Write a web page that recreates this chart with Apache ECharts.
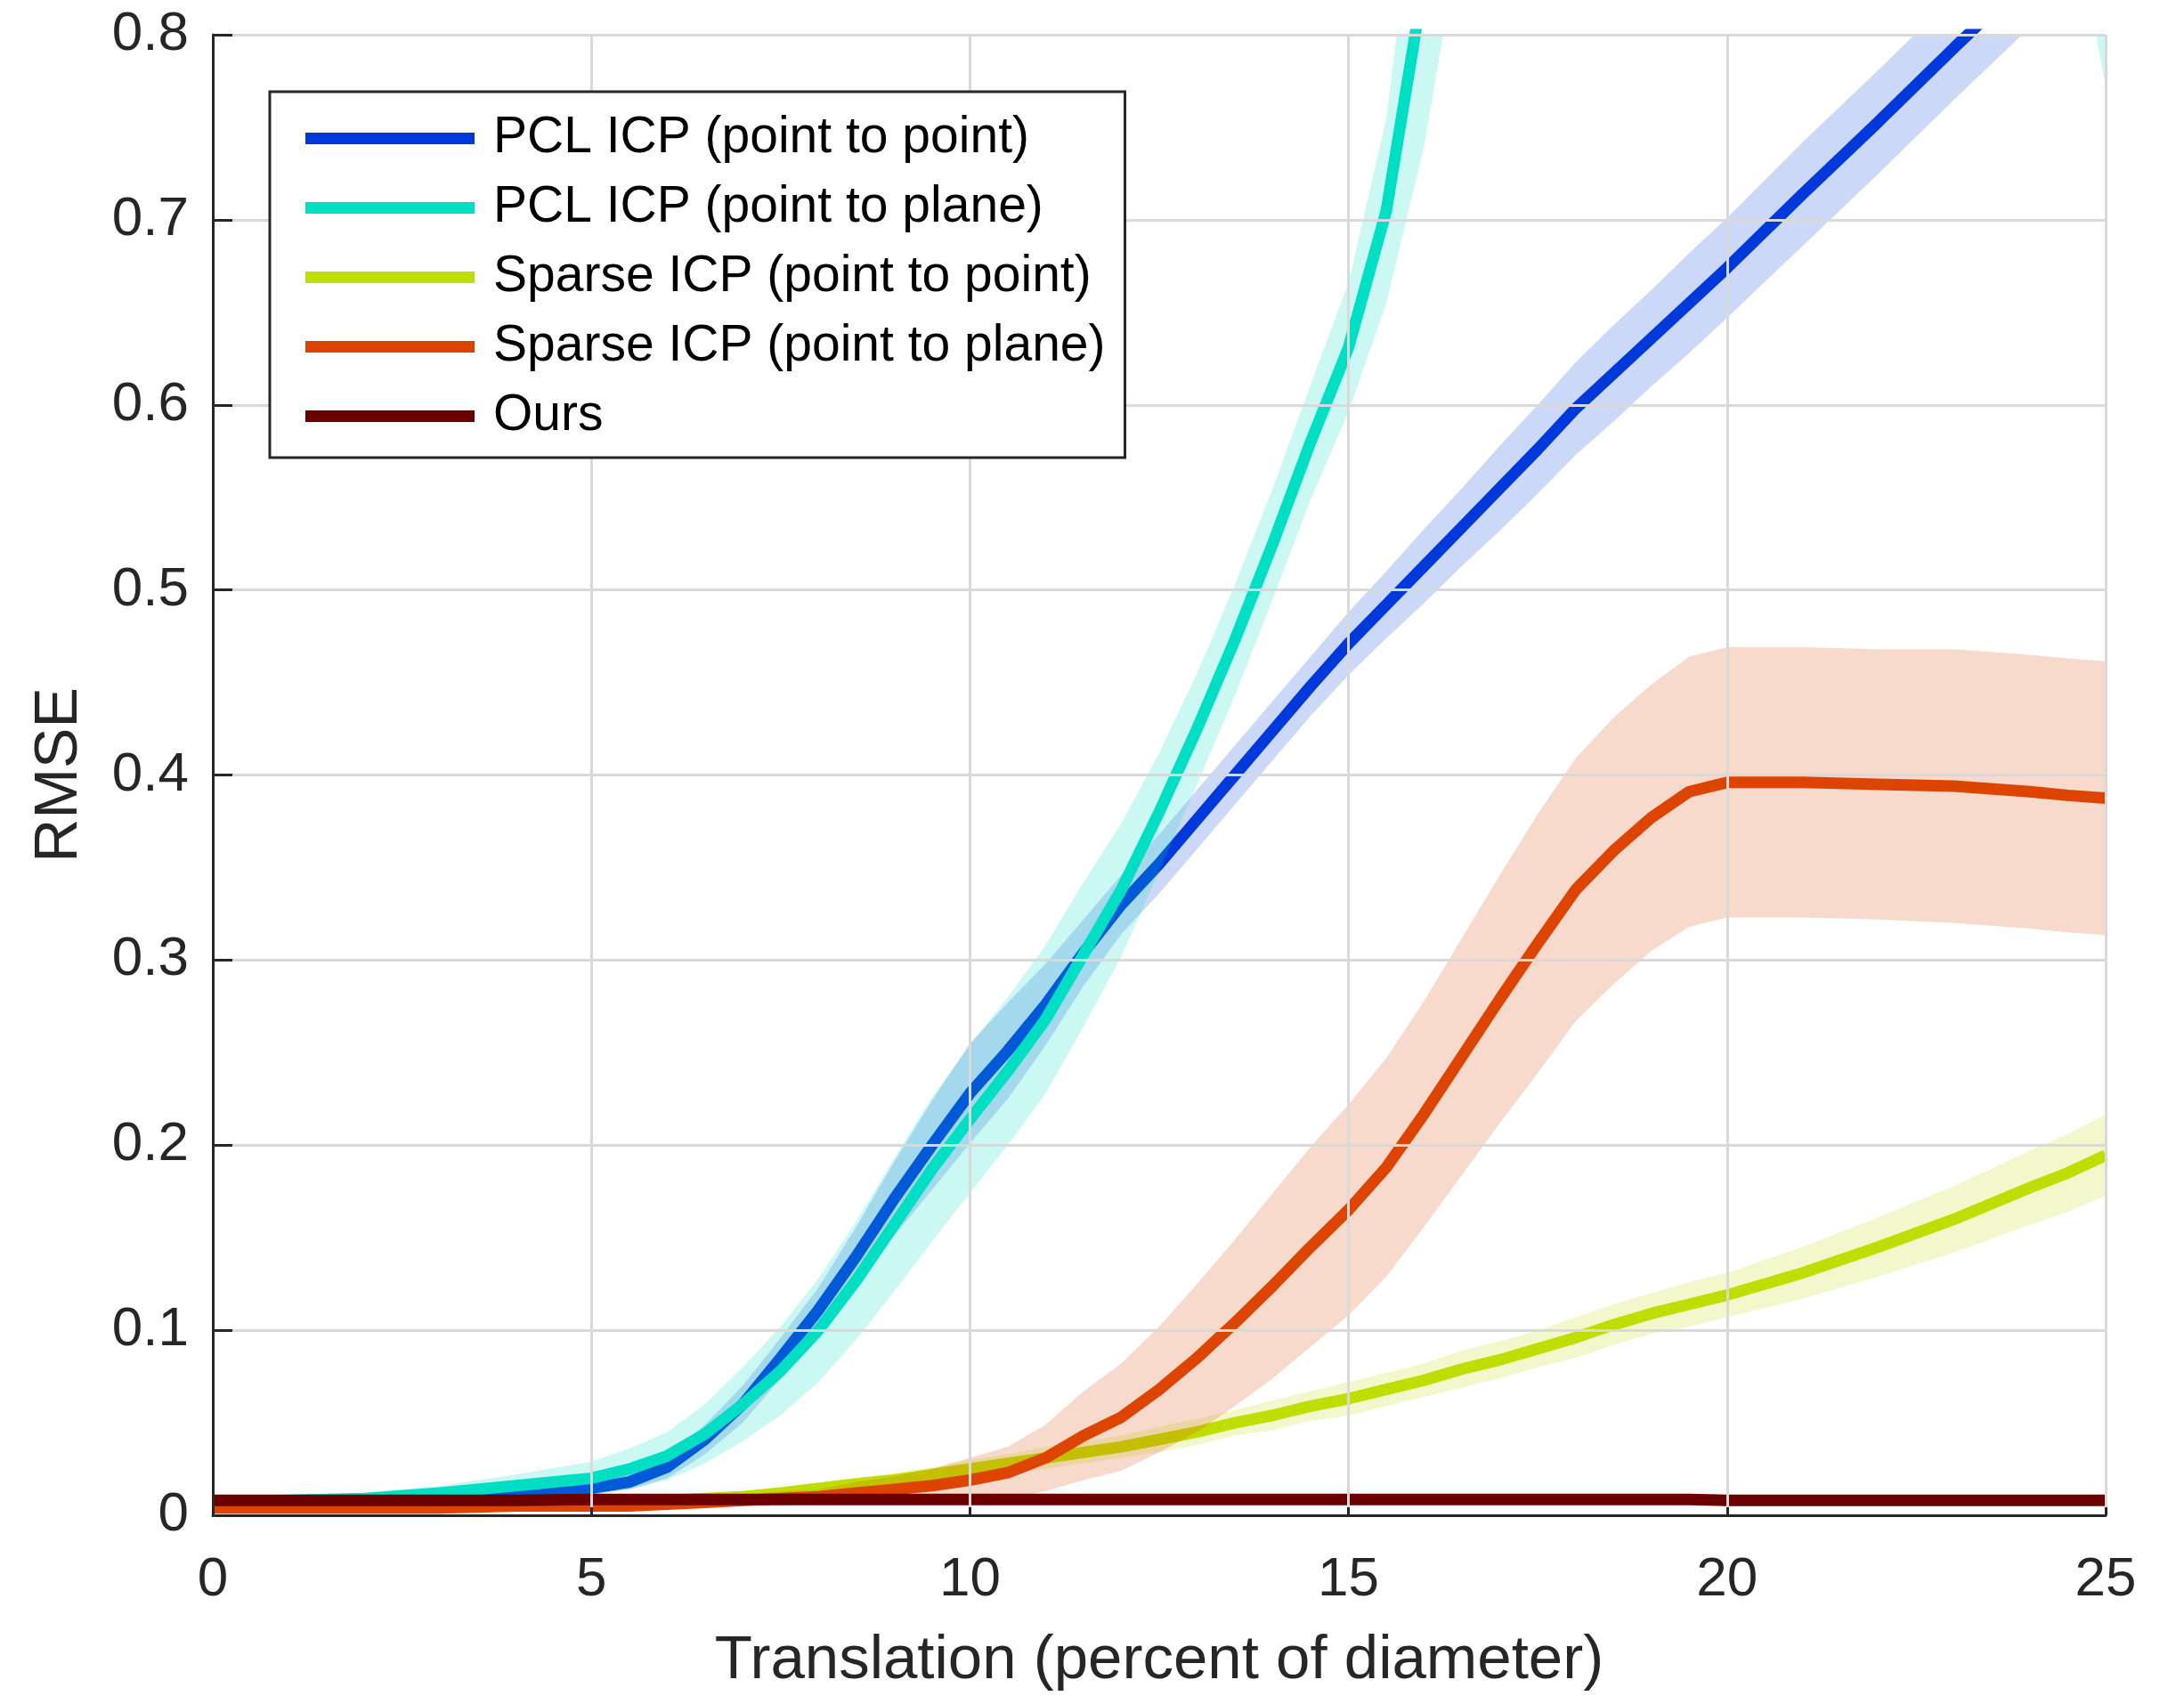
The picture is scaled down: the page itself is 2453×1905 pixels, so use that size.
<!DOCTYPE html>
<html><head><meta charset="utf-8">
<script src="https://cdn.jsdelivr.net/npm/echarts@6/dist/echarts.min.js"></script>
<style>html,body{margin:0;padding:0;background:#fff}#c{width:2453px;height:1905px}</style>
</head><body><div id="c"></div>
<script>
// Translation (percent of diameter)
const xs = [0,1,2,3,4,5,5.5,6,6.5,7,7.5,8,8.5,9,9.5,10,10.5,11,11.5,12,12.5,13,13.5,14,14.5,15,15.5,16,16.5,17,17.5,18,18.5,19,19.5,20,21,22,23,24,24.5,25];

const seriesNames = ['PCL ICP (point to point)','PCL ICP (point to plane)','Sparse ICP (point to point)','Sparse ICP (point to plane)','Ours'];

// PCL ICP (point to point)
const pclPtPtMean = [0.006,0.006,0.007,0.008,0.010,0.0146,0.018,0.026,0.041,0.060,0.085,0.111,0.140,0.171,0.200,0.228,0.251,0.276,0.304,0.330,0.352,0.376,0.400,0.424,0.448,0.471,0.492,0.513,0.534,0.555,0.576,0.598,0.617,0.636,0.655,0.674,0.714,0.753,0.793,0.832,0.851,0.871];
const pclPtPtStd  = [0.001,0.001,0.001,0.001,0.002,0.003,0.004,0.006,0.008,0.010,0.011,0.012,0.016,0.020,0.024,0.027,0.026,0.022,0.018,0.016,0.016,0.016,0.016,0.016,0.016,0.017,0.018,0.020,0.021,0.023,0.024,0.025,0.026,0.026,0.027,0.027,0.028,0.028,0.028,0.028,0.028,0.028];

// PCL ICP (point to plane)
const pclPtPlMean = [0.007,0.008,0.009,0.012,0.016,0.020,0.025,0.032,0.044,0.060,0.078,0.100,0.127,0.157,0.187,0.214,0.240,0.268,0.303,0.338,0.380,0.425,0.473,0.525,0.580,0.631,0.705,0.830,0.980,1.150,1.300,1.450,1.550,1.600,1.620,1.600,1.500,1.350,1.200,1.000,0.930,0.805];
const pclPtPlStd  = [0.002,0.002,0.003,0.004,0.006,0.009,0.011,0.013,0.016,0.020,0.024,0.028,0.032,0.036,0.039,0.040,0.040,0.040,0.039,0.036,0.032,0.030,0.030,0.030,0.031,0.035,0.050,0.090,0.120,0.120,0.120,0.120,0.120,0.120,0.120,0.120,0.110,0.100,0.090,0.070,0.050,0.033];

// Sparse ICP (point to point)
const sparsePtPtMean = [0.005,0.005,0.005,0.006,0.006,0.007,0.007,0.008,0.009,0.010,0.012,0.0145,0.017,0.019,0.022,0.025,0.028,0.031,0.034,0.037,0.041,0.045,0.050,0.054,0.059,0.063,0.068,0.073,0.079,0.084,0.090,0.096,0.103,0.109,0.114,0.119,0.131,0.145,0.160,0.177,0.185,0.1945];
const sparsePtPtStd  = [0.001,0.001,0.001,0.001,0.001,0.001,0.001,0.001,0.002,0.002,0.002,0.003,0.003,0.004,0.004,0.005,0.005,0.006,0.006,0.006,0.007,0.007,0.007,0.008,0.008,0.009,0.009,0.009,0.010,0.010,0.010,0.011,0.011,0.011,0.012,0.012,0.014,0.016,0.018,0.020,0.021,0.022];

// Sparse ICP (point to plane)
const sparsePtPlMean = [0.004,0.004,0.004,0.004,0.005,0.005,0.005,0.006,0.007,0.008,0.009,0.010,0.012,0.014,0.016,0.019,0.023,0.031,0.043,0.053,0.068,0.085,0.104,0.124,0.145,0.165,0.188,0.217,0.248,0.279,0.309,0.338,0.359,0.377,0.391,0.396,0.396,0.395,0.394,0.391,0.389,0.3875];
const sparsePtPlStd  = [0.002,0.002,0.002,0.002,0.002,0.002,0.002,0.002,0.003,0.003,0.004,0.004,0.006,0.007,0.009,0.012,0.014,0.018,0.024,0.029,0.034,0.040,0.045,0.050,0.054,0.057,0.059,0.061,0.064,0.067,0.070,0.071,0.072,0.072,0.073,0.073,0.073,0.073,0.074,0.074,0.074,0.074];

// Ours
const oursMean = [0.008,0.008,0.008,0.008,0.008,0.0085,0.0085,0.0085,0.0085,0.0085,0.0085,0.0085,0.0085,0.0085,0.0085,0.0085,0.0085,0.0085,0.0085,0.0085,0.0085,0.0085,0.0085,0.0085,0.0085,0.0085,0.0085,0.0085,0.0085,0.0085,0.0085,0.0085,0.0085,0.0085,0.0085,0.008,0.008,0.008,0.008,0.008,0.008,0.008];

const xTicks = [0,5,10,15,20,25];
const yTicks = [0,0.1,0.2,0.3,0.4,0.5,0.6,0.7,0.8];

const lineColors = ['#0039DB','#00DEC4','#BEDE00','#DC4400','#6B0000'];
const bandColors = ['rgba(0,60,220,0.2)','rgba(0,222,196,0.2)','rgba(190,222,0,0.2)','rgba(220,68,0,0.2)'];
const means = [pclPtPtMean, pclPtPlMean, sparsePtPtMean, sparsePtPlMean, oursMean];
const stds = [pclPtPtStd, pclPtPlStd, sparsePtPtStd, sparsePtPlStd, null];

const FONT = '"Liberation Sans", Arial, Helvetica, sans-serif';
const series = [];
means.forEach((m, k) => {
  const s = stds[k];
  if (s) {
    series.push({
      type: 'custom', name: 'band' + k,
      coordinateSystem: 'cartesian2d',
      clip: true, silent: true, z: 2 + 2 * k,
      data: xs.map((x, i) => [x, m[i] - s[i], m[i] + s[i]]),
      encode: { x: 0, y: [1, 2] },
      renderItem: (params, api) => {
        if (params.dataIndex !== 0) return null;
        const upper = xs.map((x, i) => api.coord([x, m[i] + s[i]]));
        const lower = xs.map((x, i) => api.coord([x, m[i] - s[i]])).reverse();
        return {
          type: 'polygon',
          shape: { points: upper.concat(lower) },
          style: { fill: bandColors[k], stroke: null }
        };
      }
    });
  }
  series.push({
    type: 'line', name: seriesNames[k],
    data: xs.map((x, i) => [x, m[i]]),
    symbol: 'none', showSymbol: false, z: 3 + 2 * k, clip: true,
    lineStyle: { color: lineColors[k], width: 13 },
    itemStyle: { color: lineColors[k] }
  });
});

const chart = echarts.init(document.getElementById('c'), null, { renderer: 'canvas' });
chart.setOption({
  animation: false,
  backgroundColor: '#ffffff',
  grid: { left: 239, right: 88, top: 39, bottom: 198, containLabel: false },
  legend: {
    data: seriesNames,
    orient: 'vertical',
    left: 303, top: 103,
    backgroundColor: '#ffffff',
    borderColor: '#262626', borderWidth: 3, borderRadius: 0,
    padding: [24, 22, 18, 40],
    itemWidth: 190, itemHeight: 13, itemGap: 21,
    icon: 'rect',
    itemStyle: { borderWidth: 0 },
    textStyle: { fontSize: 57, lineHeight: 57, color: '#000', fontFamily: FONT, padding: [0, 0, 0, 16] },
    selectedMode: false,
    z: 60
  },
  xAxis: {
    type: 'value', min: 0, max: 25, interval: 5,
    name: 'Translation (percent of diameter)',
    nameLocation: 'middle', nameGap: 129,
    nameTextStyle: { fontSize: 69, color: '#262626', fontFamily: FONT },
    axisLine: { show: true, onZero: false, lineStyle: { color: '#262626', width: 3 } },
    axisTick: { show: true, inside: true, length: 9, lineStyle: { color: '#262626', width: 3 } },
    axisLabel: { fontSize: 62, color: '#262626', fontFamily: FONT, margin: 42,
      formatter: v => String(v) },
    splitLine: { show: true, lineStyle: { color: '#d9d9d9', width: 3 } },
    z: 30
  },
  yAxis: {
    type: 'value', min: 0, max: 0.8, interval: 0.1,
    name: 'RMSE',
    nameLocation: 'middle', nameGap: 138, nameRotate: 90,
    nameTextStyle: { fontSize: 68, color: '#262626', fontFamily: FONT },
    axisLine: { show: true, onZero: false, lineStyle: { color: '#262626', width: 3 } },
    axisTick: { show: true, inside: true, length: 22, lineStyle: { color: '#262626', width: 3 } },
    axisLabel: { fontSize: 62, color: '#262626', fontFamily: FONT, margin: 27,
      formatter: v => (Math.abs(v) < 1e-9 ? '0' : (Math.round(v * 10) / 10).toFixed(1)) },
    splitLine: { show: true, lineStyle: { color: '#d9d9d9', width: 3 } },
    z: 30
  },
  series: series
});
</script>
</body></html>
